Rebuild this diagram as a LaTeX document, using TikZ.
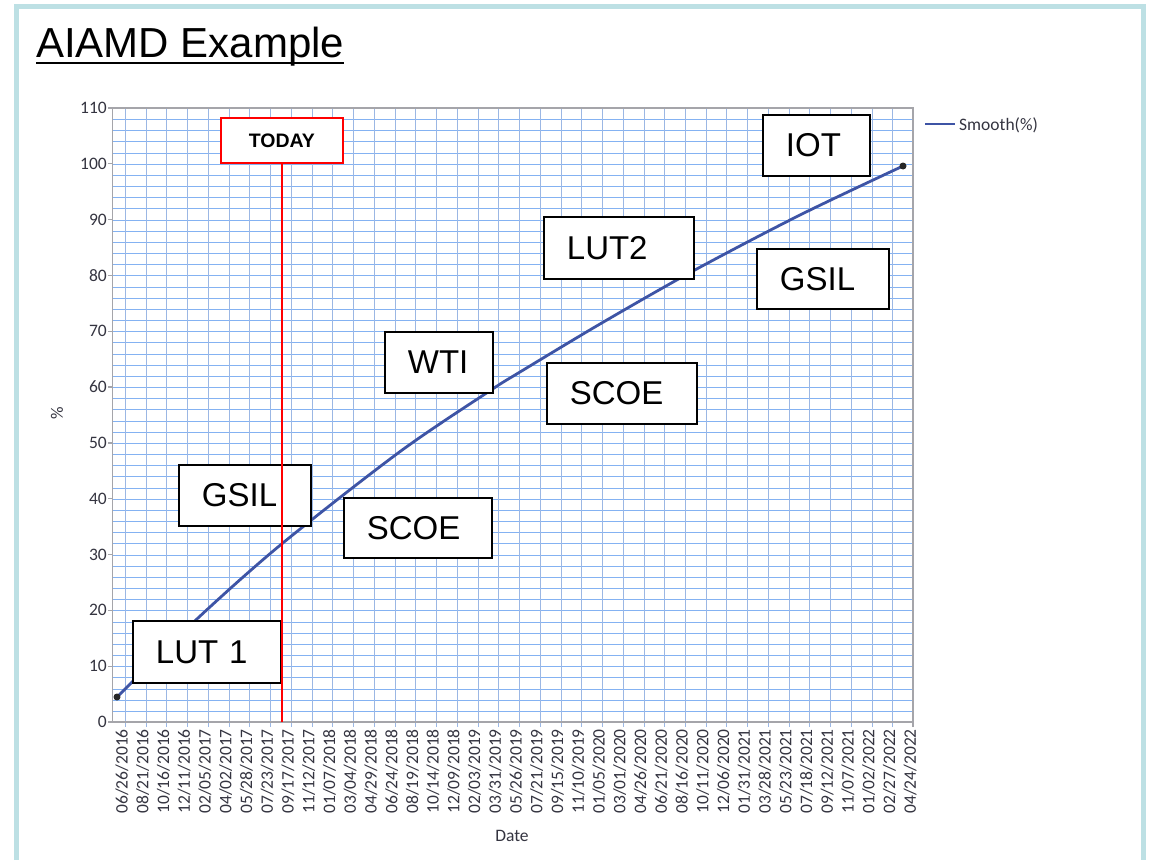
\documentclass[tikz,border=0pt]{standalone}
\usepackage{fontspec}
\setmainfont{Liberation Sans}
\newfontfamily\chartfont{Carlito}
\definecolor{framecol}{RGB}{189,224,228}
\definecolor{gridh}{RGB}{132,178,242}
\definecolor{gridv}{RGB}{155,183,228}
\definecolor{axisgray}{RGB}{165,165,170}
\definecolor{curvecol}{RGB}{62,84,165}
\definecolor{ticktext}{RGB}{52,52,64}
\definecolor{todayred}{RGB}{255,0,0}
\begin{document}
\begin{tikzpicture}[x=1pt,y=-1pt,
  lbl/.style={draw=black, line width=1.8pt, fill=white, inner xsep=23pt, inner ysep=0pt,
    font=\fontsize{33}{38}\selectfont, align=left, anchor=north west},
  tick/.style={font=\chartfont\fontsize{17.5}{20}\selectfont, text=ticktext, inner sep=0pt},
  enddot/.style={circle, fill=black!85, inner sep=0pt, minimum size=7pt}]

\useasboundingbox (0,0) rectangle (1150,860);
\fill[white] (0,0) rectangle (1150,860);
\draw[framecol, line width=5pt] (16.5,860) -- (16.5,6.5) -- (1143,6.5) -- (1143,860);

% title
\node[inner sep=0pt, anchor=base west, font=\fontsize{42}{48}\selectfont] (title) at (36,57) {AIAMD Example};
\draw[line width=2.6pt] ([yshift=-6pt]title.base west) -- ([yshift=-6pt]title.base east);

% grid
\foreach \j in {1,...,54}
  \draw[gridh, line width=1.5pt] (112.5,{round(722-11.164*\j)+0.5}) -- (913,{round(722-11.164*\j)+0.5});
\foreach \k in {0,...,37}
  \draw[gridv, line width=1.5pt] ({round(125+20.74*\k)+0.5},108) -- ({round(125+20.74*\k)+0.5},727);
\draw[axisgray, line width=1.2pt] (913,722) -- (913,727);
\foreach \v in {0,10,...,110}
  \draw[axisgray, line width=1.2pt] (108,{722-5.582*\v}) -- (112.5,{722-5.582*\v});
\draw[axisgray, line width=1.5pt] (112.5,108) rectangle (913,722);

% y tick labels
\foreach \v in {0,10,...,110}
  \node[tick, anchor=east] (y\v) at (107,{722-5.582*\v}) {\v};

% date labels
\foreach \d [count=\k from 0] in {06/26/2016,08/21/2016,10/16/2016,12/11/2016,02/05/2017,04/02/2017,05/28/2017,07/23/2017,09/17/2017,11/12/2017,01/07/2018,03/04/2018,04/29/2018,06/24/2018,08/19/2018,10/14/2018,12/09/2018,02/03/2019,03/31/2019,05/26/2019,07/21/2019,09/15/2019,11/10/2019,01/05/2020,03/01/2020,04/26/2020,06/21/2020,08/16/2020,10/11/2020,12/06/2020,01/31/2021,03/28/2021,05/23/2021,07/18/2021,09/12/2021,11/07/2021,01/02/2022,02/27/2022,04/24/2022}
  \node[tick, rotate=90, anchor=mid east] (d\k) at ({125+20.74*\k},729) {\d};

\node[tick, rotate=90] (ylab) at (57,413) {\%};
\node[tick] (xlab) at (512,836) {Date};

% legend
\coordinate (lg1) at (925,124);
\coordinate (lg2) at (955,124);
\draw[curvecol, line width=2.8pt] (lg1) -- (lg2);
\node[tick, anchor=west] (legtxt) at (959,125) {Smooth(\%)};

% curve
\draw[curvecol, line width=2.8pt] plot[smooth] coordinates {(117,697) (198,618) (281,544.5) (400,451.6) (490,390.7) (520,372) (600,324) (693,271) (800,215) (903,166)};
\node[enddot] (p0) at (117,697) {};
\node[enddot] (p1) at (903,166) {};

% label boxes
\node[lbl, minimum width=107pt, minimum height=61pt, text width=61pt] (iot) at (762,114) {IOT};
\node[lbl, minimum width=150pt, minimum height=62pt, text width=104pt] (lut2) at (543,216) {LUT2};
\node[lbl, minimum width=132pt, minimum height=60pt, text width=86pt] (gsilr) at (756,248) {GSIL};
\node[lbl, minimum width=108pt, minimum height=61pt, text width=62pt] (wti) at (384,331) {WTI};
\node[lbl, minimum width=150pt, minimum height=61pt, text width=104pt] (scoer) at (546,362) {SCOE};
\node[lbl, minimum width=132pt, minimum height=61pt, text width=86pt] (gsill) at (178,464) {GSIL};
\node[lbl, minimum width=148pt, minimum height=60pt, text width=102pt] (scoel) at (343,497) {SCOE};
\node[lbl, minimum width=148pt, minimum height=62pt, text width=102pt] (lut1) at (132,620) {LUT 1};

% today
\node[draw=todayred, line width=1.8pt, fill=white, minimum width=122pt, minimum height=45pt, inner sep=0pt,
  anchor=north west, font=\bfseries\fontsize{19.5}{22}\selectfont] (today) at (220,117) {TODAY};
\coordinate (tb) at (281,722);
\draw[todayred, line width=2pt] (today.south) -- (today.south |- tb);
\end{tikzpicture}
\end{document}
